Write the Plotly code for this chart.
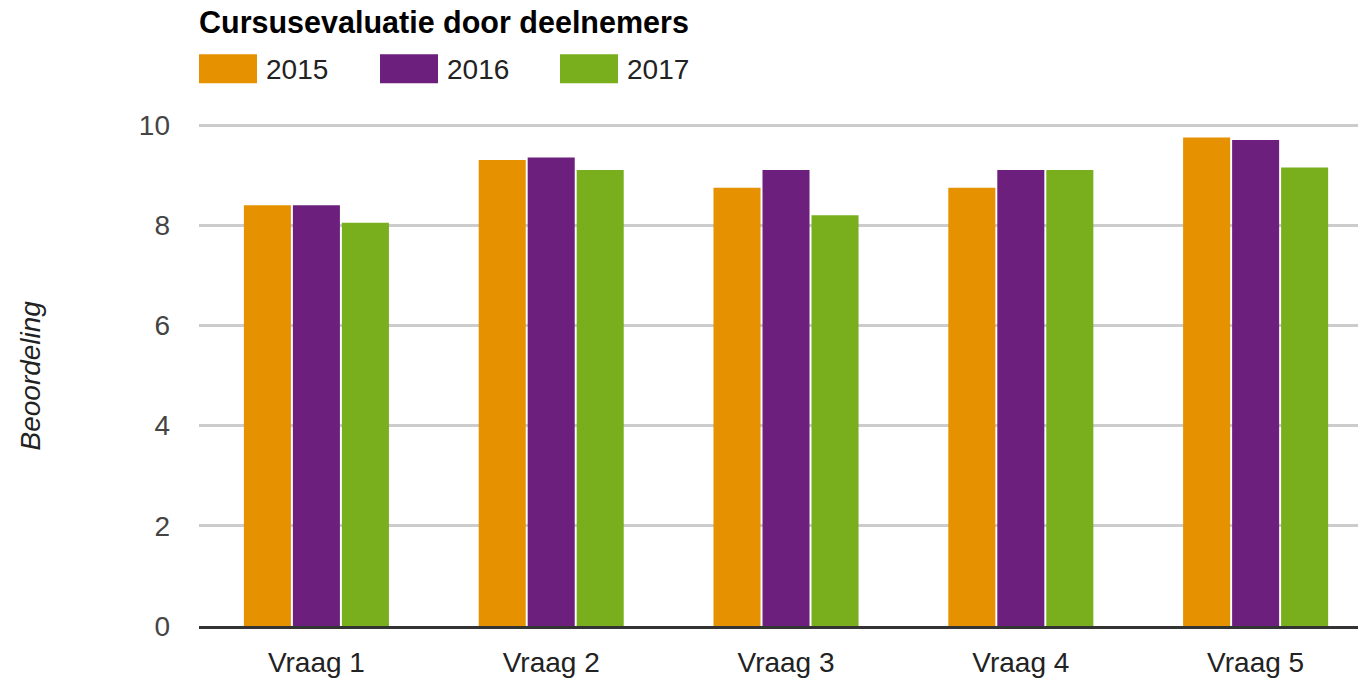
import plotly.graph_objects as go

categories = ["Vraag 1", "Vraag 2", "Vraag 3", "Vraag 4", "Vraag 5"]
series_names = ["2015", "2016", "2017"]
values_2015 = [8.4, 9.3, 8.75, 8.75, 9.75]
values_2016 = [8.4, 9.35, 9.1, 9.1, 9.7]
values_2017 = [8.05, 9.1, 8.2, 9.1, 9.15]
colors = ["#E59100", "#6D1F7E", "#79AE1D"]
y_ticks = [0, 2, 4, 6, 8, 10]

W, H = 1358, 678
L, R, T, B = 199, 0, 115, 49

fig = go.Figure()
for name, vals, col in zip(series_names, [values_2015, values_2016, values_2017], colors):
    fig.add_trace(go.Bar(x=categories, y=vals, name=name, marker=dict(color=col, line=dict(width=0))))

fig.update_layout(
    width=W, height=H,
    margin=dict(l=L, r=R, t=T, b=B, pad=0),
    paper_bgcolor="white", plot_bgcolor="white",
    barmode="group", bargap=0.374, bargroupgap=0.04,
    showlegend=False,
    font=dict(family="Liberation Sans, Arial, sans-serif"),
)
fig.update_xaxes(
    range=[-0.5, 4.436],
    showline=True, linecolor="#333333", linewidth=3,
    showgrid=False, ticks="",
    ticklabelstandoff=9,
    tickfont=dict(size=28, color="#222222"),
)
fig.update_yaxes(
    range=[0, 10.2], tickvals=y_ticks,
    showgrid=True, gridcolor="#CCCCCC", gridwidth=2.5,
    zeroline=False, showline=False, ticks="",
    ticklabelstandoff=28,
    tickfont=dict(size=28, color="#444444"),
)

# Y axis title
fig.add_annotation(
    text="<i>Beoordeling</i>", textangle=-90,
    xref="paper", yref="y", x=(31 - L) / (W - L - R), y=5,
    xanchor="center", yanchor="middle", showarrow=False,
    font=dict(size=28, color="#222222"),
)

# Chart title
fig.add_annotation(
    text="<b>Cursusevaluatie door deelnemers</b>",
    xref="paper", yref="paper",
    x=(197 - L) / (W - L - R), y=(H - B - 21) / (H - T - B),
    xanchor="left", yanchor="middle", showarrow=False,
    font=dict(size=30.5, color="#000000"),
)

# Custom legend with large swatches
pw, ph = W - L - R, H - T - B
def px_x(x):
    return (x - L) / pw
def px_y(y):
    return (H - B - y) / ph

swatch_x = [199, 380, 560]
for name, col, sx in zip(series_names, colors, swatch_x):
    fig.add_shape(type="rect", xref="paper", yref="paper",
                  x0=px_x(sx), x1=px_x(sx + 58), y0=px_y(83), y1=px_y(54),
                  fillcolor=col, line=dict(width=0))
    fig.add_annotation(text=name, xref="paper", yref="paper",
                       x=px_x(sx + 65), y=px_y(69), xanchor="left", yanchor="middle",
                       showarrow=False, font=dict(size=28, color="#222222"))

fig.write_html("out.html", config={"displayModeBar": False},
               post_script="document.body.style.margin='0';document.body.style.overflow='hidden';")
